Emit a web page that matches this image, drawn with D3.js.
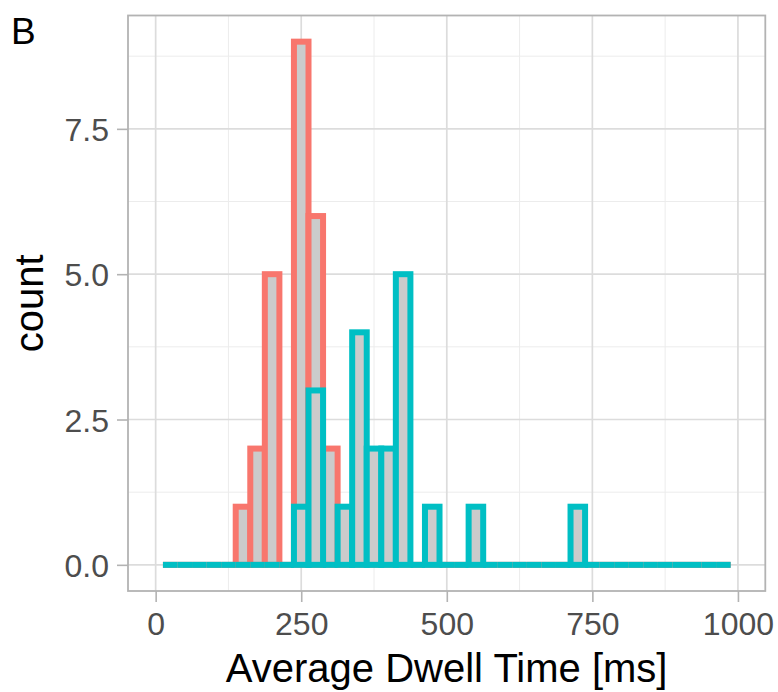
<!DOCTYPE html>
<html>
<head>
<meta charset="utf-8">
<script src="https://cdn.jsdelivr.net/npm/d3@7"></script>
<style>
  html, body { margin: 0; padding: 0; background: #fff; }
  svg { display: block; font-family: "Liberation Sans", Arial, sans-serif; }
</style>
</head>
<body>
<svg id="chart" width="778" height="692"></svg>
<script>
// ---- data ----
const binCenters = [25, 50, 75, 100, 125, 150, 175, 200, 225, 250, 275, 300, 325, 350, 375, 400, 425, 450, 475, 500,
                    525, 550, 575, 600, 625, 650, 675, 700, 725, 750, 775, 800, 825, 850, 875, 900, 925, 950, 975];
const binWidth = 25;
const groupNames = ["group1", "group2"];
const countsGroup1 = [0, 0, 0, 0, 0, 1, 2, 5, 0, 9, 6, 2, 0, 0, 0, 0, 0, 0, 0, 0,
                      0, 0, 0, 0, 0, 0, 0, 0, 0, 0, 0, 0, 0, 0, 0, 0, 0, 0, 0];
const countsGroup2 = [0, 0, 0, 0, 0, 0, 0, 0, 0, 1, 3, 0, 1, 4, 2, 2, 5, 0, 1, 0,
                      0, 1, 0, 0, 0, 0, 0, 0, 1, 0, 0, 0, 0, 0, 0, 0, 0, 0, 0];
const groupColors = ["#F8766D", "#00BFC4"];
const xTicks = [0, 250, 500, 750, 1000];
const xMinor = [125, 375, 625, 875];
const yTicks = [0, 2.5, 5, 7.5];
const yTickLabels = ["0.0", "2.5", "5.0", "7.5"];
const yMinor = [1.25, 3.75, 6.25, 8.75];
const xTitle = "Average Dwell Time [ms]";
const yTitle = "count";
const panelTag = "B";

// ---- layout ----
const svg = d3.select("#chart");
const P = { left: 128, right: 765.3, top: 15.5, bottom: 591 };

const x = d3.scaleLinear().domain([-47.5, 1047]).range([P.left, P.right]);
const y = d3.scaleLinear().domain([-0.45, 9.45]).range([P.bottom, P.top]);

// panel background
svg.append("rect").attr("x", P.left).attr("y", P.top)
  .attr("width", P.right - P.left).attr("height", P.bottom - P.top).attr("fill", "#fff");

// grid minor
const grid = svg.append("g");
grid.selectAll("line.xm").data(xMinor).join("line")
  .attr("x1", d => x(d)).attr("x2", d => x(d)).attr("y1", P.top).attr("y2", P.bottom)
  .attr("stroke", "#ECECEC").attr("stroke-width", 1);
grid.selectAll("line.ym").data(yMinor).join("line")
  .attr("y1", d => y(d)).attr("y2", d => y(d)).attr("x1", P.left).attr("x2", P.right)
  .attr("stroke", "#ECECEC").attr("stroke-width", 1);
// grid major
grid.selectAll("line.xM").data(xTicks).join("line")
  .attr("x1", d => x(d)).attr("x2", d => x(d)).attr("y1", P.top).attr("y2", P.bottom)
  .attr("stroke", "#DCDCDC").attr("stroke-width", 1.7);
grid.selectAll("line.yM").data(yTicks).join("line")
  .attr("y1", d => y(d)).attr("y2", d => y(d)).attr("x1", P.left).attr("x2", P.right)
  .attr("stroke", "#DCDCDC").attr("stroke-width", 1.7);

// bars
const series = [countsGroup1, countsGroup2];
const barsG = svg.append("g");
series.forEach((counts, gi) => {
  const data = binCenters.map((c, i) => ({ x0: c - binWidth / 2, x1: c + binWidth / 2, n: counts[i] }));
  const g = barsG.append("g");
  data.forEach(d => {
    if (d.n > 0) {
      g.append("rect")
        .attr("x", x(d.x0)).attr("y", y(d.n))
        .attr("width", x(d.x1) - x(d.x0)).attr("height", y(0) - y(d.n))
        .attr("fill", "#CBCBCB")
        .attr("stroke", groupColors[gi]).attr("stroke-width", 6)
        .attr("stroke-linejoin", "miter");
    } else {
      g.append("line")
        .attr("x1", x(d.x0)).attr("x2", x(d.x1)).attr("y1", y(0)).attr("y2", y(0))
        .attr("stroke", groupColors[gi]).attr("stroke-width", 6)
        .attr("stroke-linecap", "butt");
    }
  });
});

// panel border
svg.append("rect").attr("x", P.left).attr("y", P.top)
  .attr("width", P.right - P.left).attr("height", P.bottom - P.top)
  .attr("fill", "none").attr("stroke", "#B3B3B3").attr("stroke-width", 1.8);

// x axis
const xAxis = d3.axisBottom(x).tickValues(xTicks).tickSize(11).tickPadding(10).tickFormat(d3.format("d"));
const gx = svg.append("g").attr("transform", `translate(0,${P.bottom})`).call(xAxis);
gx.select(".domain").remove();
gx.selectAll(".tick line").attr("stroke", "#B3B3B3").attr("stroke-width", 1.6);
gx.selectAll(".tick text").attr("fill", "#4D4D4D").attr("font-size", 32)
  .attr("font-family", "Liberation Sans, Arial, sans-serif").attr("dy", "0.71em");

// y axis
const yAxis = d3.axisLeft(y).tickValues(yTicks).tickSize(11).tickPadding(8)
  .tickFormat((d, i) => yTickLabels[i]);
const gy = svg.append("g").attr("transform", `translate(${P.left},0)`).call(yAxis);
gy.select(".domain").remove();
gy.selectAll(".tick line").attr("stroke", "#B3B3B3").attr("stroke-width", 1.6);
gy.selectAll(".tick text").attr("fill", "#4D4D4D").attr("font-size", 32)
  .attr("font-family", "Liberation Sans, Arial, sans-serif").attr("dy", "0.36em");

// titles
svg.append("text").attr("x", (P.left + P.right) / 2).attr("y", 682)
  .attr("text-anchor", "middle").attr("font-size", 40).attr("fill", "#000").text(xTitle);
svg.append("text").attr("transform", `translate(43,${(P.top + P.bottom) / 2}) rotate(-90)`)
  .attr("text-anchor", "middle").attr("font-size", 40).attr("fill", "#000").text(yTitle);
svg.append("text").attr("x", 11).attr("y", 44)
  .attr("font-size", 37).attr("fill", "#000").text(panelTag);
</script>
</body>
</html>
